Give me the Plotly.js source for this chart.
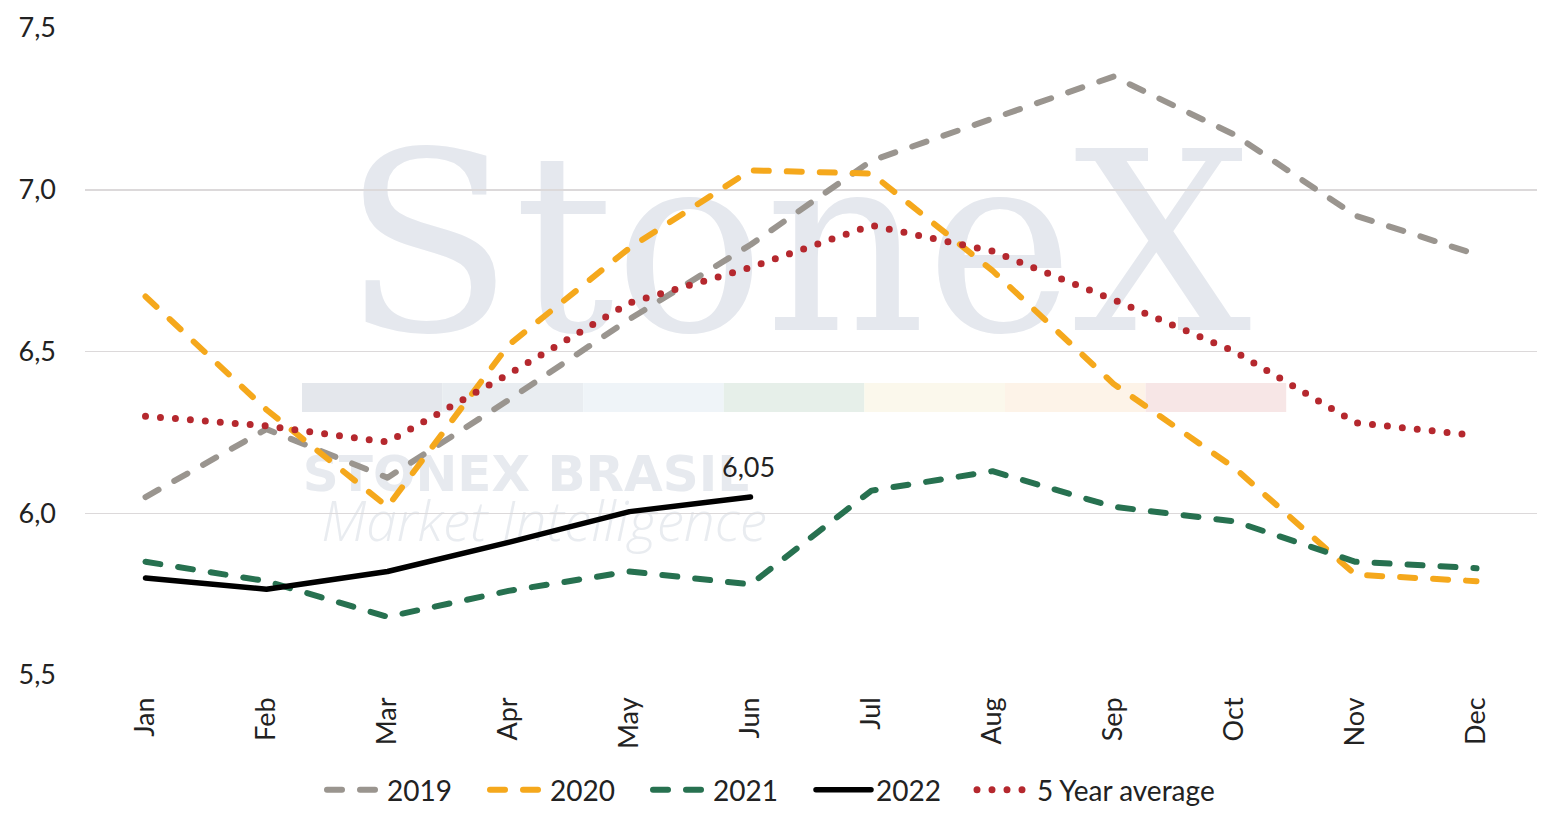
<!DOCTYPE html>
<html>
<head>
<meta charset="utf-8">
<script src="https://cdn.plot.ly/plotly-3.0.1.min.js"></script>
<style>
  body { margin: 0; background: #fff; }
  #chart { width: 1560px; height: 827px; }
  .js-line { stroke-linecap: round !important; stroke-linejoin: round !important; }
</style>
</head>
<body>
<div id="chart"></div>
<script>
var months = ['Jan', 'Feb', 'Mar', 'Apr', 'May', 'Jun', 'Jul', 'Aug', 'Sep', 'Oct', 'Nov', 'Dec'];
var y2019 = [6.05, 6.26, 6.11, 6.35, 6.60, 6.83, 7.09, 7.22, 7.35, 7.17, 6.92, 6.80];
var y2020 = [6.67, 6.32, 6.02, 6.52, 6.82, 7.06, 7.05, 6.75, 6.40, 6.14, 5.81, 5.79];
var y2021 = [5.85, 5.79, 5.68, 5.76, 5.82, 5.78, 6.07, 6.13, 6.02, 5.975, 5.85, 5.83];
var y2022 = [5.80, 5.765, 5.82, 5.91, 6.005, 6.05];
var avg5 = [6.30, 6.27, 6.22, 6.43, 6.65, 6.76, 6.89, 6.81, 6.66, 6.50, 6.28, 6.24];
var yTicks = [5.5, 6.0, 6.5, 7.0, 7.5];

var font = 'Lato, "Open Sans", sans-serif';

var traces = [
  {x: months, y: y2019, name: '2019', mode: 'lines', type: 'scatter',
   line: {color: '#9a958f', width: 6, dash: '15px,18px'}},
  {x: months, y: y2020, name: '2020', mode: 'lines', type: 'scatter',
   line: {color: '#f5a81c', width: 6, dash: '15px,18px'}},
  {x: months, y: y2021, name: '2021', mode: 'lines', type: 'scatter',
   line: {color: '#277150', width: 6, dash: '15px,18px'}},
  {x: months.slice(0, y2022.length), y: y2022, name: '2022', mode: 'lines', type: 'scatter',
   line: {color: '#000000', width: 5.5}},
  {x: months, y: avg5, name: '5 Year average', mode: 'lines', type: 'scatter', legend: 'legend2',
   line: {color: '#b5282e', width: 7, dash: '0px,15px'}}
];

// label on the last 2022 point
var last = y2022.length - 1;
var annotations = [{
  x: months[last], y: y2022[last], xref: 'x', yref: 'y',
  text: y2022[last].toFixed(2).replace('.', ','), showarrow: false,
  yanchor: 'bottom', yshift: 12, xshift: -2,
  font: {family: font, size: 27, color: '#222'}
}];

// watermark
var barColors = ['#e4e7ec', '#e9edf1', '#eff4f8', '#e6efe9', '#fbf8ec', '#fdf3e8', '#f7e6e6'];
var shapes = barColors.map(function(c, i) {
  var x0 = (302 + i * 140.6 - 85) / 1452;
  return {type: 'rect', xref: 'paper', yref: 'paper', layer: 'below',
          x0: x0, x1: x0 + 140.6 / 1452, y0: (675 - 412) / 647, y1: (675 - 383) / 647,
          fillcolor: c, line: {width: 0}};
});
function wmText(txt, px0, px1, py0, py1, f) {
  return {type: 'rect', xref: 'paper', yref: 'paper', layer: 'below',
          x0: (px0 - 85) / 1452, x1: (px1 - 85) / 1452,
          y0: (675 - py1) / 647, y1: (675 - py0) / 647,
          fillcolor: 'rgba(0,0,0,0)', line: {width: 0},
          label: {text: txt, font: f, textposition: 'middle center'}};
}
shapes.push(wmText('StoneX', 300, 1294, 130, 320,
  {family: '"DejaVu Serif", serif', size: 250, color: '#e5e8ee'}));
shapes.push(wmText('STONEX BRASIL', 300, 752, 450, 490,
  {family: '"DejaVu Sans", sans-serif', size: 50, color: '#e7eaef', weight: 'bold'}));
shapes.push(wmText('<i>Market Intelligence</i>', 300, 788, 500, 546,
  {family: '"Open Sans", sans-serif', size: 55, color: '#e9ecf0', weight: 300}));

var legendBase = {orientation: 'h', xref: 'container', xanchor: 'left',
                  yref: 'container', y: 37 / 827, yanchor: 'middle',
                  font: {family: font, size: 28, color: '#222'}, itemwidth: 55};

var layout = {
  width: 1560, height: 827,
  margin: {l: 85, r: 23, t: 28, b: 152},
  paper_bgcolor: '#fff', plot_bgcolor: 'rgba(0,0,0,0)',
  separators: ',.',
  font: {family: font, size: 27, color: '#222'},
  showlegend: true,
  legend: Object.assign({}, legendBase, {x: 322 / 1560, entrywidth: 93, entrywidthmode: 'pixels'}),
  legend2: Object.assign({}, legendBase, {x: 972 / 1560}),
  xaxis: {type: 'category', range: [-0.5, 11.5], tickangle: -90, showgrid: false,
          zeroline: false, showline: false, ticks: '', automargin: false,
          ticklabelstandoff: 16, tickfont: {size: 27}},
  yaxis: {range: [5.5, 7.5], tickvals: yTicks, tickformat: '.1f', showgrid: true,
          gridcolor: '#dcd9da', gridwidth: 1.5, zeroline: false, showline: false,
          ticks: '', automargin: false, ticklabelstandoff: 28, tickfont: {size: 27}},
  shapes: shapes,
  annotations: annotations
};

Plotly.newPlot('chart', traces, layout, {displayModeBar: false, staticPlot: true});
</script>
</body>
</html>
